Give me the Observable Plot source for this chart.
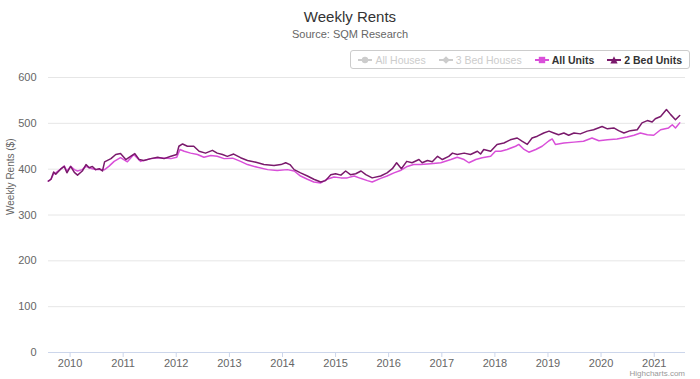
<!DOCTYPE html>
<html>
<head>
<meta charset="utf-8">
<script src="https://cdn.jsdelivr.net/npm/d3@7"></script>
<script src="https://cdn.jsdelivr.net/npm/@observablehq/plot@0.6"></script>
<style>
  body { margin: 0; background: #fff; font-family: "Liberation Sans", Arial, sans-serif; }
  #wrap { position: relative; width: 700px; height: 379px; overflow: hidden; }
  #head { position: relative; height: 68px; }
  .title { position: absolute; top: 8px; left: 0; width: 700px; text-align: center; font-size: 15px; color: #333; }
  .sub { position: absolute; top: 28px; left: 0; width: 700px; text-align: center; font-size: 11px; color: #666; }
  .legend { position: absolute; right: 10px; top: 50px; height: 19px; padding: 0 7px; border: 1px solid #ccc; border-radius: 3px;
            display: flex; align-items: center; gap: 13px; font-size: 10.5px; font-weight: bold; box-sizing: border-box; }
  .item { display: flex; align-items: center; gap: 3px; white-space: nowrap; }
  .credit { position: absolute; right: 15px; top: 369px; font-size: 8px; line-height: 9px; color: #999; }
  #chart svg { display: block; }
</style>
</head>
<body>
<div id="wrap">
  <div id="head">
    <div class="title" id="title"></div>
    <div class="sub" id="sub"></div>
    <div class="legend" id="legend"></div>
  </div>
  <div id="chart"></div>
  <div class="credit" id="credit"></div>
</div>
<script>
// ---- Text ----
const titleText = "Weekly Rents";
const subtitleText = "Source: SQM Research";
const yLabel = "Weekly Rents ($)";
const creditText = "Highcharts.com";

// ---- Legend ----
const legendNames = ["All Houses", "3 Bed Houses", "All Units", "2 Bed Units"];
const legendSymbols = ["circle", "diamond", "square", "triangle"];
const legendVisible = [false, false, true, true];
const legendColors = ["#cccccc", "#cccccc", "#d94fd9", "#7a1a6c"];

// ---- Ticks ----
const yTicks = [0, 100, 200, 300, 400, 500, 600];
const xTickYears = [2010, 2011, 2012, 2013, 2014, 2015, 2016, 2017, 2018, 2019, 2020, 2021];
const xDomainYears = [2009.593, 2021.589];

// ---- Series: 2 Bed Units (decimal year, $/week) ----
const twoBedYears = [2009.59,2009.64,2009.69,2009.73,2009.82,2009.89,2009.94,2010.01,2010.08,2010.14,2010.23,2010.30,2010.36,2010.42,2010.48,2010.55,2010.61,2010.65,2010.77,2010.86,2010.95,2011.05,2011.14,2011.22,2011.30,2011.39,2011.52,2011.65,2011.77,2011.90,2012.01,2012.05,2012.12,2012.21,2012.33,2012.43,2012.55,2012.68,2012.77,2012.87,2012.96,2013.08,2013.21,2013.34,2013.50,2013.65,2013.84,2013.97,2014.06,2014.14,2014.22,2014.34,2014.47,2014.59,2014.72,2014.81,2014.91,2015.00,2015.10,2015.19,2015.28,2015.38,2015.48,2015.57,2015.69,2015.85,2015.97,2016.07,2016.15,2016.24,2016.34,2016.44,2016.57,2016.63,2016.73,2016.82,2016.92,2017.01,2017.13,2017.20,2017.29,2017.42,2017.54,2017.67,2017.73,2017.79,2017.92,2018.04,2018.17,2018.29,2018.42,2018.51,2018.61,2018.70,2018.80,2018.92,2019.02,2019.11,2019.20,2019.30,2019.39,2019.49,2019.61,2019.74,2019.86,2020.02,2020.12,2020.24,2020.33,2020.43,2020.55,2020.68,2020.77,2020.87,2020.96,2021.02,2021.12,2021.23,2021.31,2021.40,2021.48];
const twoBedValues = [374,378,394,389,400,406,392,406,393,387,396,410,403,406,399,401,396,416,423,432,434,421,428,434,421,419,423,426,423,428,432,450,455,450,450,439,435,441,435,432,428,433,425,419,415,410,408,410,414,410,399,392,385,378,372,375,388,390,387,396,388,390,396,388,381,385,392,401,414,401,417,414,421,414,419,416,428,421,428,435,432,435,432,439,433,443,439,454,457,464,468,461,454,468,472,479,483,479,475,479,474,479,477,483,486,493,488,490,484,479,484,486,501,506,503,510,515,530,519,508,517];

// ---- Series: All Units ----
const allUnitsYears = [2009.59,2009.64,2009.69,2009.73,2009.82,2009.89,2009.94,2010.01,2010.08,2010.14,2010.23,2010.30,2010.36,2010.42,2010.48,2010.55,2010.61,2010.65,2010.73,2010.83,2010.95,2011.08,2011.20,2011.33,2011.52,2011.71,2011.90,2012.01,2012.07,2012.15,2012.27,2012.40,2012.52,2012.65,2012.77,2012.90,2013.06,2013.21,2013.34,2013.53,2013.72,2013.90,2014.09,2014.22,2014.34,2014.47,2014.59,2014.72,2014.84,2014.97,2015.10,2015.22,2015.35,2015.47,2015.60,2015.69,2015.85,2015.97,2016.10,2016.22,2016.35,2016.47,2016.60,2016.79,2016.98,2017.17,2017.29,2017.42,2017.51,2017.64,2017.76,2017.92,2018.01,2018.11,2018.23,2018.39,2018.45,2018.55,2018.64,2018.77,2018.89,2019.02,2019.08,2019.14,2019.30,2019.49,2019.67,2019.83,2019.96,2020.12,2020.30,2020.49,2020.62,2020.74,2020.87,2020.99,2021.12,2021.27,2021.34,2021.40,2021.48];
const allUnitsValues = [374,378,390,392,400,407,396,406,399,396,399,406,403,401,399,400,399,399,406,417,425,416,432,417,423,425,423,426,443,439,435,432,426,430,428,423,424,417,410,404,399,397,399,396,385,378,372,370,378,383,381,381,385,380,375,372,380,385,392,397,406,410,410,412,414,421,426,421,414,421,425,428,439,439,443,450,454,443,437,443,450,462,466,454,457,459,461,468,462,464,466,470,474,479,475,474,486,490,497,490,501];

// ---- Helpers ----
function toDate(y) {
  const yr = Math.floor(y);
  const s = Date.UTC(yr, 0, 1), e = Date.UTC(yr + 1, 0, 1);
  return new Date(s + (y - yr) * (e - s));
}
const twoBed = twoBedYears.map((y, i) => ({date: toDate(y), value: twoBedValues[i]}));
const allUnits = allUnitsYears.map((y, i) => ({date: toDate(y), value: allUnitsValues[i]}));

// ---- Header ----
document.getElementById("title").textContent = titleText;
document.getElementById("sub").textContent = subtitleText;
document.getElementById("credit").textContent = creditText;

function symbolSvg(kind, color) {
  let m = "";
  if (kind === "circle") m = `<circle cx="7" cy="5" r="3.2" fill="${color}"/>`;
  if (kind === "diamond") m = `<path d="M7 1.2 L10.8 5 L7 8.8 L3.2 5 Z" fill="${color}"/>`;
  if (kind === "square") m = `<rect x="3.8" y="1.8" width="6.4" height="6.4" fill="${color}"/>`;
  if (kind === "triangle") m = `<path d="M7 1.2 L10.6 8.4 L3.4 8.4 Z" fill="${color}"/>`;
  return `<svg width="14" height="10"><line x1="0" y1="5" x2="14" y2="5" stroke="${color}" stroke-width="2"/>${m}</svg>`;
}
const legend = document.getElementById("legend");
legendNames.forEach((name, i) => {
  const it = document.createElement("div");
  it.className = "item";
  it.innerHTML = symbolSvg(legendSymbols[i], legendColors[i]);
  const t = document.createElement("span");
  t.textContent = name;
  t.style.color = legendVisible[i] ? "#333" : "#cccccc";
  if (!legendVisible[i]) t.style.fontWeight = "normal";
  it.appendChild(t);
  legend.appendChild(it);
});

// ---- Chart ----
const chart = Plot.plot({
  width: 700,
  height: 311,
  marginTop: 9,
  marginBottom: 27,
  marginLeft: 48,
  marginRight: 15,
  style: {fontFamily: "Liberation Sans, Arial, sans-serif", fontSize: "11px", color: "#666", background: "#fff", overflow: "visible"},
  x: {type: "utc", domain: xDomainYears.map(toDate)},
  y: {domain: [0, 600]},
  marks: [
    Plot.gridY(yTicks.filter(d => d > 0), {stroke: "#e6e6e6", strokeOpacity: 1}),
    Plot.ruleY([0], {stroke: "#ccd6eb"}),
    Plot.axisY(yTicks, {tickSize: 0, tickPadding: 12, label: null, fill: "#666"}),
    Plot.axisX(xTickYears.map(y => toDate(y)), {tickSize: 5, tickPadding: 2, stroke: "#ccd6eb", strokeOpacity: 1, fill: "#666", tickFormat: d3.utcFormat("%Y"), label: null}),
    Plot.text([yLabel], {frameAnchor: "left", dx: -38, rotate: -90, fill: "#666", fontSize: 10}),
    Plot.lineY(allUnits, {x: "date", y: "value", stroke: legendColors[2], strokeWidth: 1.5}),
    Plot.lineY(twoBed, {x: "date", y: "value", stroke: legendColors[3], strokeWidth: 1.5})
  ]
});
document.getElementById("chart").appendChild(chart);
</script>
</body>
</html>
